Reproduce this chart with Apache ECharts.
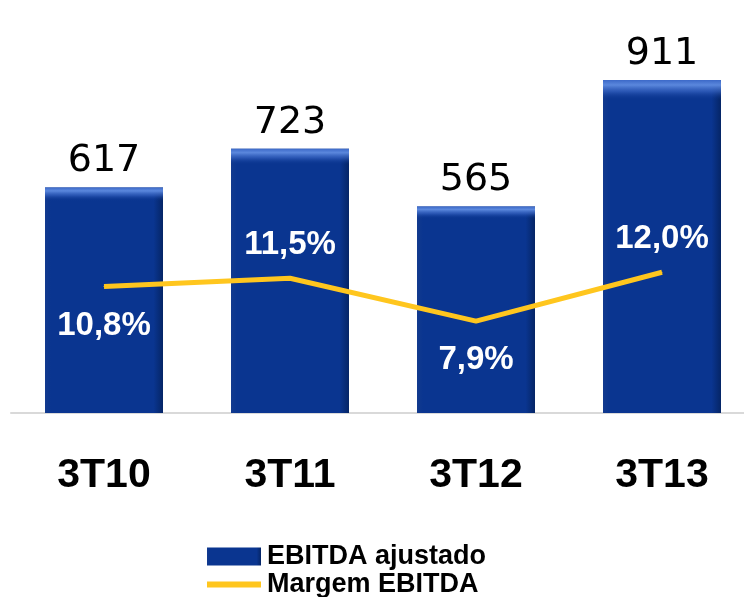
<!DOCTYPE html>
<html>
<head>
<meta charset="utf-8">
<script src="https://cdn.jsdelivr.net/npm/echarts@6/dist/echarts.min.js"></script>
<style>
  html, body { margin: 0; padding: 0; background: #fff; overflow: hidden; }
  #chart { width: 756px; height: 597px; }
</style>
</head>
<body>
<div id="chart"></div>
<script>
// dados
const trimestres = ['3T10', '3T11', '3T12', '3T13'];
const ebitdaAjustado = [617, 723, 565, 911];
const margemEbitda = [10.8, 11.5, 7.9, 12.0];

const chart = echarts.init(document.getElementById('chart'));

const fmtPct = v => v.toFixed(1).replace('.', ',') + '%';

// uma legenda por linha
const legendBase = {
  left: 207,
  padding: 0,
  itemWidth: 54,
  itemHeight: 18,
  symbolKeepAspect: true,
  textStyle: { fontSize: 27, fontWeight: 'bold', color: '#000', padding: [0, 0, 0, 1] }
};

const options = {
  animation: false,
  textStyle: { fontFamily: 'Liberation Sans, Arial, sans-serif' },
  grid: { left: 11, right: 1, top: 0, bottom: 184 },
  legend: [
    Object.assign({}, legendBase, {
      top: 543,
      data: [{ name: 'EBITDA ajustado', icon: 'rect' }]
    }),
    Object.assign({}, legendBase, {
      top: 571,
      data: [{ name: 'Margem EBITDA', icon: 'path://M0,0 H54 V6 H0 Z' }]
    })
  ],
  xAxis: {
    type: 'category',
    data: trimestres,
    axisLine: { lineStyle: { color: '#d9d9d9', width: 2 } },
    axisTick: { show: false },
    axisLabel: { fontSize: 41, fontWeight: 'bold', color: '#000', margin: 42 }
  },
  yAxis: [
    { type: 'value', min: 0, max: 1130, show: false },
    { type: 'value', min: 0.2, max: 34.82, show: false }
  ],
  series: [
    {
      name: 'EBITDA ajustado',
      type: 'bar',
      data: ebitdaAjustado,
      barWidth: 118,
      itemStyle: {
        color: new echarts.graphic.LinearGradient(0, 0, 1, 0, [
          { offset: 0, color: '#123a8e' },
          { offset: 0.05, color: '#0a3590' },
          { offset: 0.92, color: '#0a3590' },
          { offset: 1, color: '#052566' }
        ])
      },
      label: {
        show: true,
        position: 'top',
        distance: 7,
        fontSize: 38,
        fontFamily: 'DejaVu Sans',
        color: '#000'
      },
      z: 2
    },
    {
      // brilho no topo das barras
      name: 'brilho',
      type: 'bar',
      data: ebitdaAjustado,
      barWidth: 118,
      barGap: '-100%',
      silent: true,
      itemStyle: {
        color: new echarts.graphic.LinearGradient(0, 0, 0, 1, [
          { offset: 0, color: 'rgba(60,105,200,1)' },
          { offset: 0.015, color: 'rgba(95,140,225,0.95)' },
          { offset: 0.035, color: 'rgba(60,105,200,0.6)' },
          { offset: 0.06, color: 'rgba(10,53,144,0)' },
          { offset: 1, color: 'rgba(10,53,144,0)' }
        ])
      },
      z: 3
    },
    {
      name: 'Margem EBITDA',
      type: 'line',
      yAxisIndex: 1,
      data: margemEbitda.map((v, i) => ({
        value: v,
        label: i % 2 === 0 ? { position: 'bottom', distance: 22 } : { position: 'top', distance: 16 }
      })),
      symbol: 'circle',
      symbolSize: 1,
      showSymbol: true,
      lineStyle: { color: '#ffc61e', width: 5 },
      itemStyle: { color: '#ffc61e' },
      label: {
        show: true,
        fontSize: 33,
        fontWeight: 'bold',
        color: '#fff',
        formatter: p => fmtPct(p.value)
      },
      z: 5
    }
  ]
};

chart.setOption(options);
</script>
</body>
</html>
